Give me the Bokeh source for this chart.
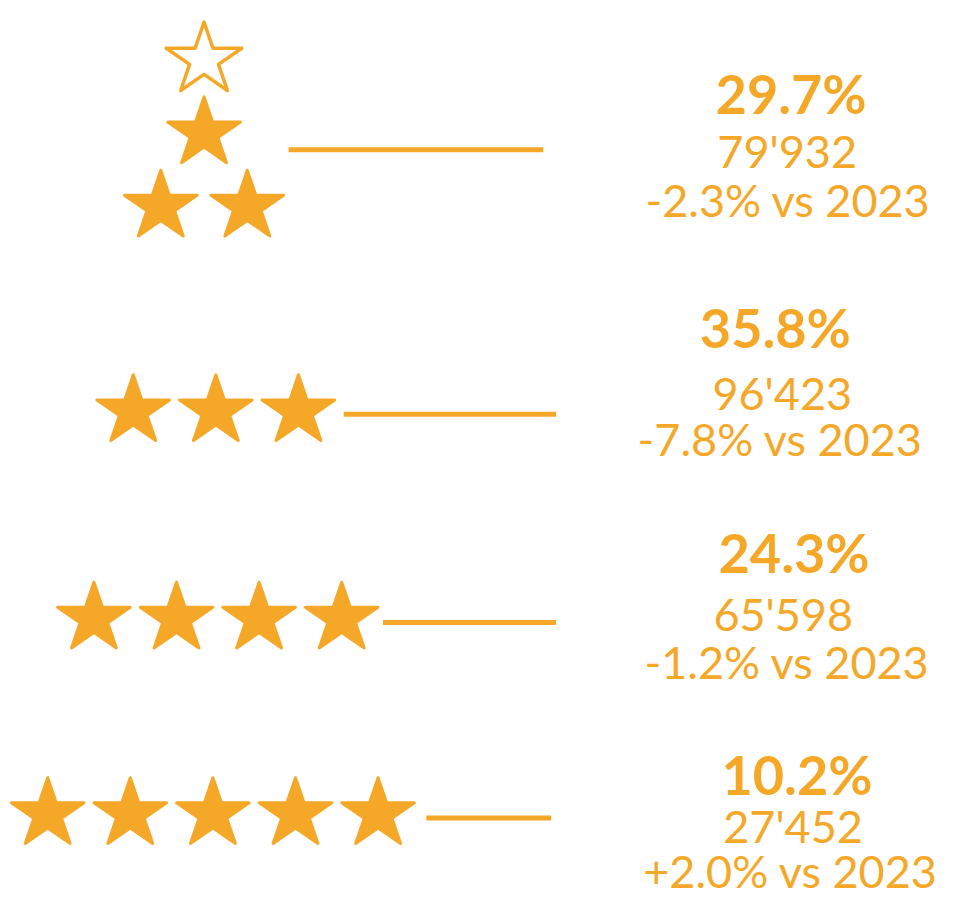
import math
from bokeh.plotting import figure
from bokeh.models import Range1d
from bokeh.core.properties import value
from bokeh.embed import file_html
from bokeh.resources import INLINE

# ---------------- data ----------------
rating_groups = ["0-2 stars", "3 stars", "4 stars", "5 stars"]
star_counts = [2, 3, 4, 5]
shares = [29.7, 35.8, 24.3, 10.2]
counts = [79932, 96423, 65598, 27452]
changes = [-2.3, -7.8, -1.2, 2.0]
compare_year = 2023

# ---------------- layout / style ----------------
COLOR = "#F5A828"
W, H = 943, 900          # canvas size in px
UW, UH = 959, 916        # layout units
R = 37.0
R_HOLLOW = 38.5
K = 0.382
SX = 1.05
SPACING = 84
BOLD_PX, REG_PX = 54, 45
# empirical correction of text baseline placement (layout units)
BOLD_DY = -0.41 * BOLD_PX * UH / H
REG_DY = -0.41 * REG_PX * UH / H

rows_layout = [
    dict(apex_x=207, apex_y=60.5, level_dy=74.6, half_gap=44,
         line_x0=293, line_x1=552, line_y=152,
         text_x=[804, 800, 801], base=[116.7, 171.7, 221.7]),
    dict(star_y=418, last_x=303, line_x0=349, line_x1=565, line_y=421,
         text_x=[788, 795, 793], base=[355, 418, 465]),
    dict(star_y=629, last_x=347, line_x0=389, line_x1=565, line_y=633,
         text_x=[807, 796, 800], base=[584, 643, 692]),
    dict(star_y=828, last_x=384, line_x0=433, line_x1=560, line_y=832,
         text_x=[810, 806, 803.5], base=[810, 859, 905]),
]


def star_poly(cx, cy, r_out, k=K, sx=SX):
    xs, ys = [], []
    for i in range(10):
        ang = -math.pi / 2 + i * math.pi / 5
        r = r_out if i % 2 == 0 else r_out * k
        xs.append(cx + sx * r * math.cos(ang))
        ys.append(cy + r * math.sin(ang))
    return xs, ys


p = figure(width=W, height=H, output_backend="svg", toolbar_location=None,
           x_range=Range1d(0, UW), y_range=Range1d(UH, 0), min_border=0)
p.axis.visible = False
p.grid.visible = False
p.outline_line_color = None
p.background_fill_color = "white"
p.border_fill_color = "white"

filled_xs, filled_ys = [], []
hollow_xs, hollow_ys = [], []
lx0, lx1, ly = [], [], []
tx, ty, tt = [], [], []
bx, by, bt = [], [], []

for i, n in enumerate(star_counts):
    L = rows_layout[i]
    if i == 0:
        ax, ay, dy, hg = L["apex_x"], L["apex_y"], L["level_dy"], L["half_gap"]
        xs, ys = star_poly(ax, ay, R_HOLLOW)
        hollow_xs.append(xs); hollow_ys.append(ys)
        for level in range(1, n + 1):
            for j in range(level):
                cx = ax + (j - (level - 1) / 2) * 2 * hg
                cy = ay + level * dy
                xs, ys = star_poly(cx, cy, R)
                filled_xs.append(xs); filled_ys.append(ys)
    else:
        for j in range(n):
            cx = L["last_x"] - (n - 1 - j) * SPACING
            xs, ys = star_poly(cx, L["star_y"], R)
            filled_xs.append(xs); filled_ys.append(ys)
    lx0.append(L["line_x0"]); lx1.append(L["line_x1"]); ly.append(L["line_y"])

    bx.append(L["text_x"][0]); by.append(L["base"][0] + BOLD_DY); bt.append(f"{shares[i]:.1f}%")
    tx.append(L["text_x"][1]); ty.append(L["base"][1] + REG_DY); tt.append(f"{counts[i]:,}".replace(",", "'"))
    tx.append(L["text_x"][2]); ty.append(L["base"][2] + REG_DY); tt.append(f"{changes[i]:+.1f}% vs {compare_year}")

p.patches(filled_xs, filled_ys, fill_color=COLOR, line_color=COLOR,
          line_width=3, line_join="round")
p.patches(hollow_xs, hollow_ys, fill_color="white", line_color=COLOR,
          line_width=3.5, line_join="round")
p.segment(x0=lx0, y0=ly, x1=lx1, y1=ly, line_color=COLOR, line_width=5)

p.text(x=bx, y=by, text=bt, text_font=value("Lato"), text_font_style="bold",
       text_font_size=f"{BOLD_PX}px", text_color=COLOR, text_align="center",
       text_baseline="alphabetic")
p.text(x=tx, y=ty, text=tt, text_font=value("Lato"), text_font_style="normal",
       text_font_size=f"{REG_PX}px", text_color=COLOR, text_align="center",
       text_baseline="alphabetic")

open("out.html", "w").write(file_html(p, INLINE))
